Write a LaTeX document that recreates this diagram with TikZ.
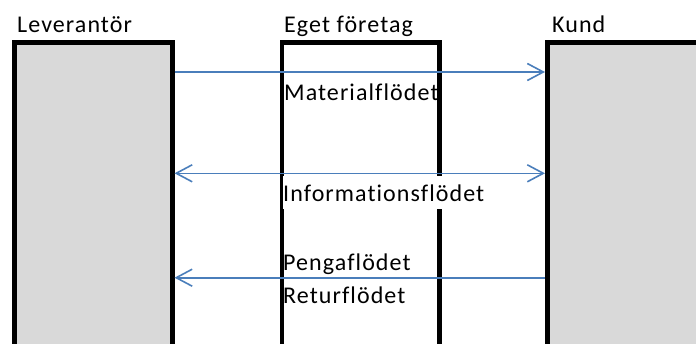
\documentclass[tikz,border=0pt]{standalone}
\usepackage{fontspec}
\setmainfont{Carlito}[LetterSpace=4.5,Ligatures=NoCommon]
\usetikzlibrary{arrows.meta}
\definecolor{boxgray}{HTML}{D9D9D9}
\definecolor{flowblue}{HTML}{4A7EBB}
\begin{document}
\begin{tikzpicture}[x=1pt,y=-1pt,
  actor/.style={draw=black,line width=4.5pt,fill=boxgray,inner sep=0pt,anchor=north west,minimum height=340pt},
  midbox/.style={actor,fill=white},
  lbl/.style={inner sep=0pt,anchor=base west,font=\fontsize{24}{28}\selectfont,text=black},
  flow/.style={draw=flowblue,line width=1.6pt},
  barb/.tip={Straight Barb[length=16pt,width=17pt,line width=1.6pt]}
]
\useasboundingbox (0,0) rectangle (696,343);
\clip (0,0) rectangle (696,343);
% boxes
\node[actor,minimum width=158pt] (lev) at (12,40) {};
\node[midbox,minimum width=157.5pt] (eget) at (279.5,40) {};
\node[actor,minimum width=175pt] (kund) at (545,40) {};
% arrow end points
\coordinate (m1) at (lev.east |- 0,72);
\coordinate (m2) at (kund.west |- 0,72);
\coordinate (i1) at (lev.east |- 0,173.3);
\coordinate (i2) at (kund.west |- 0,173.3);
\coordinate (p1) at (lev.east |- 0,277.7);
\coordinate (p2) at (kund.west |- 0,277.7);
% flows
\draw[flow,-barb] (m1) -- (m2);
\draw[flow,barb-barb] (i1) -- (i2);
\draw[flow,barb-] (p1) -- (p2);
% labels
\node[lbl] (tlev) at (17,32) {Leverantör};
\node[lbl] (teget) at (284,32) {Eget företag};
\node[lbl] (tkund) at (552,32) {Kund};
\node[lbl] (tmat) at (284,100) {Materialflödet};
\node[lbl,fill=white,text height=26pt,text depth=7.5pt] (tinf) at (283,201.5) {Informationsflödet};
\node[lbl] (tpen) at (283,270) {Pengaflödet};
\node[lbl] (tret) at (283,303) {Returflödet};
\end{tikzpicture}
\end{document}
